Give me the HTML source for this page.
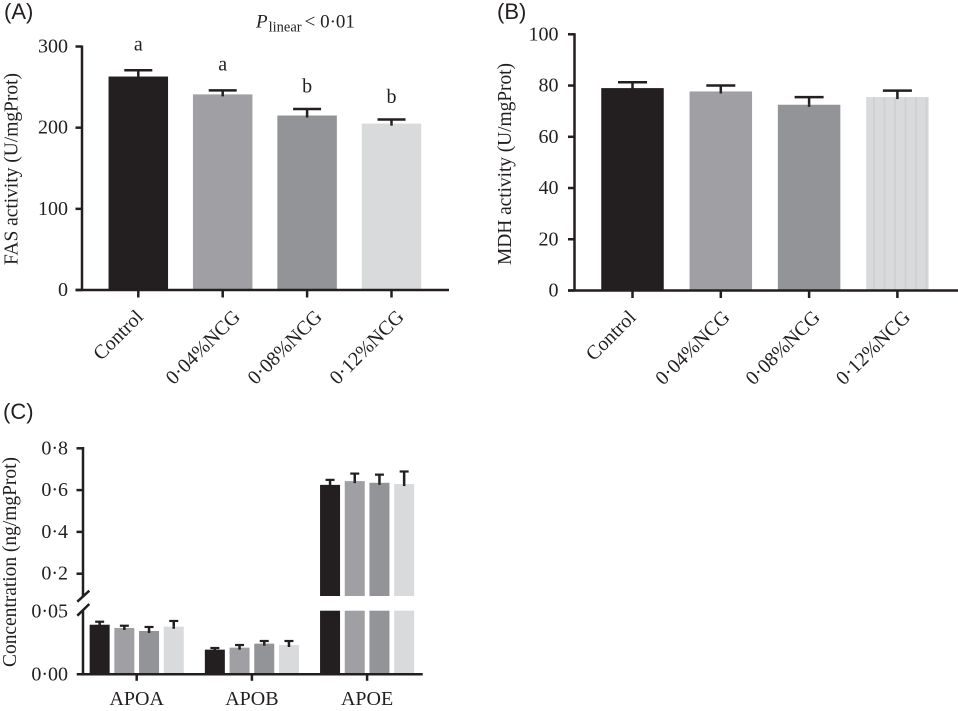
<!DOCTYPE html>
<html lang="en">
<head>
<meta charset="utf-8">
<title>FAS, MDH and apolipoprotein charts</title>
<style>
html,body{margin:0;padding:0;background:#fff;}
#figure{display:block;width:958px;height:711px;}
text{font-family:"Liberation Serif",serif;fill:#231f20;}
.panel-tag{font-family:"Liberation Sans",sans-serif;font-size:22px;}
.tick{font-size:20px;}
.title{font-size:19.5px;}
.cat{font-size:20px;}
</style>
</head>
<body>
<svg id="figure" xmlns="http://www.w3.org/2000/svg" width="958" height="711" viewBox="0 0 958 711">
  <defs>
    <pattern id="stripes" patternUnits="userSpaceOnUse" x="866" y="0" width="10.5" height="20">
      <rect width="10.5" height="20" fill="#d8dadc"/>
      <rect x="7" width="2" height="20" fill="#cfd1d3"/>
    </pattern>
  </defs>
  <text class="panel-tag" x="4" y="19">(A)</text>
  <text class="panel-tag" x="497" y="19">(B)</text>
  <text class="panel-tag" x="3" y="419">(C)</text>
  <text x="256" y="27.5" font-size="19"><tspan font-style="italic">P</tspan><tspan font-size="14.5" dy="4" dx="1">linear</tspan><tspan dy="-4" dx="3">&lt; 0·01</tspan></text>
  <text class="title" transform="translate(17.5,169) rotate(-90)" text-anchor="middle" textLength="192">FAS activity (U/mgProt)</text>
  <text class="title" transform="translate(511,164) rotate(-90)" text-anchor="middle" textLength="202">MDH activity (U/mgProt)</text>
  <text class="title" transform="translate(16,562) rotate(-90)" text-anchor="middle" textLength="210">Concentration (ng/mgProt)</text>
  <g id="panel-a"></g>
  <g id="panel-b"></g>
  <g id="panel-c"></g>
</svg>
<script>
// Data
const treatments = ['Control', '0·04%NCG', '0·08%NCG', '0·12%NCG'];
const fasTicks = [0, 100, 200, 300];
const fasValues = [263, 241, 215, 205];
const fasUpper = [270.7, 246, 223, 210];
const fasLetters = ['a', 'a', 'b', 'b'];
const mdhTicks = [0, 20, 40, 60, 80, 100];
const mdhValues = [79, 77.7, 72.5, 75.5];
const mdhUpper = [81.3, 80, 75.5, 78];
const apoGroups = ['APOA', 'APOB', 'APOE'];
const apoValues = [
  [0.0396, 0.037, 0.0346, 0.038],
  [0.0197, 0.0213, 0.0245, 0.0234],
  [0.625, 0.643, 0.635, 0.629]
];
const apoUpper = [
  [0.042, 0.0388, 0.0378, 0.0426],
  [0.021, 0.0234, 0.0266, 0.0266],
  [0.649, 0.679, 0.674, 0.689]
];
const apoTicksHigh = ['0·2', '0·4', '0·6', '0·8'];
const apoTickHighValues = [0.2, 0.4, 0.6, 0.8];
const apoTicksLow = ['0·00', '0·05'];
const apoTickLowValues = [0, 0.05];

const INK = '#231f20';
const FILLS = ['#231f20', '#a0a0a4', '#929497', '#d8dadc'];
const NS = 'http://www.w3.org/2000/svg';

function make(tag, parent, attrs, name) {
  const el = document.createElementNS(NS, tag);
  for (const k in attrs) el.setAttribute(k, attrs[k]);
  
  
  parent.appendChild(el);
  return el;
}
function rule(parent, x1, y1, x2, y2, w, name) {
  return make('line', parent, {x1, y1, x2, y2, stroke: INK, 'stroke-width': w}, name);
}
function label(parent, x, y, str, cls, anchor, name) {
  const t = make('text', parent, {x, y, class: cls, 'text-anchor': anchor}, name);
  t.textContent = str;
  return t;
}

function simplePanel(opts) {
  const g = document.getElementById(opts.id);
  const y = v => opts.y0 + (opts.yTop - opts.y0) * v / opts.max;
  const x = i => opts.first + i * opts.step;
  opts.values.forEach((v, i) => {
    const cx = x(i);
    const fill = (opts.fillOverride && opts.fillOverride[i]) || FILLS[i];
    rule(g, cx, y(opts.upper[i]), cx, y(v) + 2, 2.5, 'error-stem-' + i);
    rule(g, cx - opts.capW / 2, y(opts.upper[i]), cx + opts.capW / 2, y(opts.upper[i]), 2.5, 'error-cap-' + i);
    make('rect', g, {x: cx - opts.barW / 2, y: y(v), width: opts.barW, height: opts.y0 - y(v), fill}, 'bar-' + i);
    rule(g, cx, y(v), cx, y(v) + 2, 2.5, 'error-base-' + i);
    rule(g, cx, opts.y0, cx, opts.y0 + 7.5, 2.5, 'x-tick-' + i);
    const t = label(g, 0, 0, treatments[i], 'cat', 'end', 'x-label-' + i);
    t.setAttribute('transform', 'translate(' + (cx + opts.labelNudge(i)) + ',' + (opts.y0 + 28) + ') rotate(-45)');
  });
  opts.ticks.forEach(v => {
    rule(g, opts.axisX - 6.5, y(v), opts.axisX, y(v), 2.5, 'y-tick-' + v);
    label(g, opts.axisX - opts.tickGap, y(v) + 6, String(v), 'tick', 'end', 'y-label-' + v);
  });
  rule(g, opts.axisX, opts.yTop - 1, opts.axisX, opts.y0 + 1, 2.5, 'y-axis');
  rule(g, opts.axisX - 6.5, opts.y0, opts.xEnd, opts.y0, 2.5, 'x-axis');
  if (opts.letters) {
    opts.letters.forEach((s, i) => {
      const gap = s === 'a' ? 20 : 16.5;
      label(g, x(i), y(opts.upper[i]) - gap, s, 'tick', 'middle', 'significance-letter-' + i);
    });
  }
}

simplePanel({
  id: 'panel-a', y0: 290, yTop: 46.5, max: 300, axisX: 82, xEnd: 449,
  first: 138.3, step: 84.4, barW: 59.5, capW: 28, tickGap: 14,
  labelNudge: i => (i === 0 ? 6 : 18.5 - (i - 1) * 2.5),
  values: fasValues, upper: fasUpper, ticks: fasTicks, letters: fasLetters
});
simplePanel({
  id: 'panel-b', y0: 290.5, yTop: 34.3, max: 100, axisX: 574.5, xEnd: 958,
  first: 632.5, step: 88.3, barW: 62.5, capW: 29, tickGap: 16,
  labelNudge: i => (i === 0 ? 4.5 : 10 + (i - 1) * 2),
  values: mdhValues, upper: mdhUpper, ticks: mdhTicks, fillOverride: [null, null, null, 'url(#stripes)']
});

(function panelC() {
  const g = document.getElementById('panel-c');
  const axisX = 83, y0 = 674.3, y005 = 611.7;
  const lowTop = 610.7, highBottom = 596;
  const yLow = v => y0 + (y005 - y0) * v / 0.05;
  const yHigh = v => 573.7 + (448.3 - 573.7) * (v - 0.2) / 0.6;
  const y = v => v <= 0.05 ? yLow(v) : yHigh(v);
  const groupX = i => 136.7 + i * 115.2;
  const barOffset = j => (j - 1.5) * 24.7;
  const barW = 20;

  apoValues.forEach((series, i) => {
    series.forEach((v, j) => {
      const cx = groupX(i) + barOffset(j);
      const top = y(v), cap = y(apoUpper[i][j]);
      rule(g, cx, cap, cx, top + 2, 2.5, 'error-stem-' + apoGroups[i] + '-' + j);
      rule(g, cx - 4.5, cap, cx + 4.5, cap, 2.2, 'error-cap-' + apoGroups[i] + '-' + j);
      if (v > 0.05) {
        make('rect', g, {x: cx - barW / 2, y: top, width: barW, height: highBottom - top, fill: FILLS[j]}, 'bar-upper-' + apoGroups[i] + '-' + j);
        make('rect', g, {x: cx - barW / 2, y: lowTop, width: barW, height: y0 - lowTop, fill: FILLS[j]}, 'bar-lower-' + apoGroups[i] + '-' + j);
      } else {
        make('rect', g, {x: cx - barW / 2, y: top, width: barW, height: y0 - top, fill: FILLS[j]}, 'bar-' + apoGroups[i] + '-' + j);
      }
      rule(g, cx, top, cx, top + 2, 2.5, 'error-base-' + apoGroups[i] + '-' + j);
    });
    rule(g, groupX(i), y0, groupX(i), y0 + 6.5, 2.5, 'x-tick-' + apoGroups[i]);
    label(g, groupX(i), 705, apoGroups[i], 'cat', 'middle', 'x-label-' + apoGroups[i]);
  });

  apoTickHighValues.forEach((v, i) => {
    rule(g, axisX - 6.5, yHigh(v), axisX, yHigh(v), 2.5, 'y-tick-high-' + i);
    label(g, 68, yHigh(v) + 6, apoTicksHigh[i], 'tick', 'end', 'y-label-high-' + i);
  });
  apoTickLowValues.forEach((v, i) => {
    label(g, 68, yLow(v) + 6, apoTicksLow[i], 'tick', 'end', 'y-label-low-' + i);
  });

  rule(g, axisX, 447, axisX, 596, 2.5, 'y-axis-upper');
  rule(g, axisX, 610, axisX, y0 + 1, 2.5, 'y-axis-lower');
  rule(g, 77.3, 601.7, 89.3, 590.7, 2.5, 'axis-break-upper');
  rule(g, 77.3, 615.7, 89.3, 604, 2.5, 'axis-break-lower');
  rule(g, 76.7, y0, 422.7, y0, 2.5, 'x-axis');
})();
</script>
</body>
</html>
